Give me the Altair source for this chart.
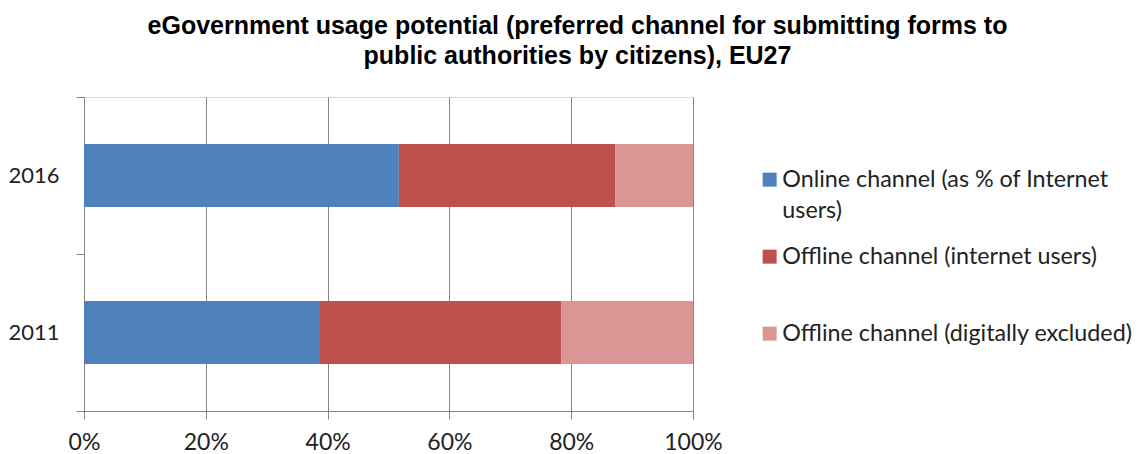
import altair as alt
import pandas as pd

years = ["2016", "2011"]
channels = [
    "Online channel (as % of Internet users)",
    "Offline channel (internet users)",
    "Offline channel (digitally excluded)",
]
online = [51.7, 38.6]
offline_internet = [35.5, 39.8]
offline_excluded = [12.8, 21.6]
colors = ["#4F81BD", "#C0504D", "#D99694"]
x_ticks = [0, 20, 40, 60, 80, 100]
title_lines = [
    "eGovernment usage potential (preferred channel for submitting forms to",
    "public authorities by citizens), EU27",
]

rows = []
for i, yr in enumerate(years):
    for k, vals in enumerate([online, offline_internet, offline_excluded]):
        rows.append({"year": yr, "channel": channels[k], "value": vals[i], "order": k})
df = pd.DataFrame(rows)

grid_color = "#868686"
font = "Lato"
text_color = "#222222"

legend_expr = (
    "datum.label == 'Online channel (as % of Internet users)' ? "
    "['Online channel (as % of Internet', 'users)'] : datum.label"
)

bars = alt.Chart(df).mark_bar(size=63).encode(
    x=alt.X(
        "value:Q",
        stack="zero",
        scale=alt.Scale(domain=[0, 100], nice=False),
        axis=alt.Axis(
            values=x_ticks, labelExpr="datum.value + '%'", title=None, grid=True,
            gridColor=grid_color, domainColor=grid_color, tickColor=grid_color,
            tickSize=8, labelPadding=12, labelFont=font, labelFontSize=23,
            labelColor=text_color, labelFlush=False, labelOverlap=False,
        ),
    ),
    y=alt.Y(
        "year:N",
        scale=alt.Scale(domain=years, paddingInner=0, paddingOuter=0),
        axis=alt.Axis(
            title=None, tickBand="extent", tickSize=8, labelPadding=17,
            domainColor=grid_color, tickColor=grid_color, labelFont=font,
            labelFontSize=22, labelColor=text_color, grid=False,
        ),
    ),
    color=alt.Color(
        "channel:N",
        scale=alt.Scale(domain=channels, range=colors),
        legend=alt.Legend(
            title=None, orient="none", legendX=674, legendY=71,
            symbolType="square", symbolSize=196, symbolStrokeWidth=0,
            symbolOpacity=1, labelFont=font, labelFontSize=23.3,
            labelColor=text_color, labelLimit=500, labelOffset=1,
            rowPadding=22, gridAlign="all", labelExpr=legend_expr,
            direction="vertical",
        ),
    ),
    order=alt.Order("order:Q"),
)

chart = (
    bars
    .properties(
        width=609,
        height=314,
        autosize=alt.AutoSizeParams(type="none"),
        padding={"left": 76, "top": 89, "right": 440, "bottom": 46},
        title=alt.Title(
            title_lines, font="Liberation Sans", fontSize=25, fontWeight="bold",
            anchor="middle", dx=189, offset=17, lineHeight=30, color="#000000",
        ),
    )
    .configure_view(stroke=None)
    .configure(background="white", style={"guide-label": {"lineHeight": 31}})
)

chart.save("out.html", embed_options={"renderer": "svg", "actions": False})
